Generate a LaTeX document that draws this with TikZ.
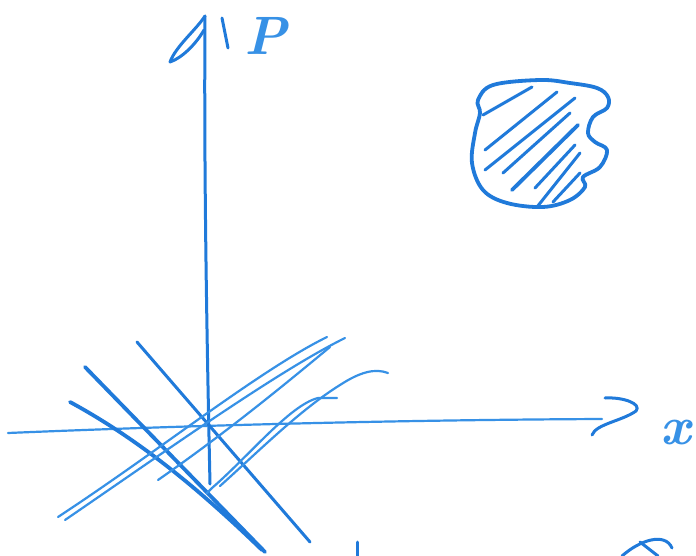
\documentclass[tikz,border=0pt]{standalone}
\definecolor{pen}{RGB}{32,122,218}
\definecolor{penlt}{RGB}{55,145,230}
\begin{document}
\begin{tikzpicture}[x=1pt,y=-1pt,
  pen/.style={draw=pen,line width=3pt,line cap=round,line join=round},
  penthin/.style={draw=penlt,line width=2.2pt,line cap=round,line join=round},
  penthick/.style={draw=pen,line width=3.8pt,line cap=round,line join=round},
  lbl/.style={text=penlt,inner sep=0pt}]
\useasboundingbox (0,0) rectangle (696,556);
\fill[white] (0,0) rectangle (696,556);

% vertical axis with arrow
\draw[pen] (210,484) .. controls (206,300) and (204,150) .. (205,16);
\draw[pen] (205,16) .. controls (196,30) and (176,46) .. (170,62) .. controls (182,58) and (196,44) .. (204,30);
\draw[pen] (222,18) -- (228,48);
\node[lbl,font=\fontsize{54}{54}\selectfont\bfseries\itshape] (P) at (266,36) {P};

% horizontal axis with arrow
\draw[penthin] (8,433) .. controls (200,425) and (400,420) .. (602,419);
\draw[pen] (605,398) .. controls (624,397) and (642,404) .. (636,411) .. controls (622,421) and (596,424) .. (592,435);
\node[lbl,font=\fontsize{54}{54}\selectfont\bfseries\itshape] (X) at (676,433) {x};

% lines going down-right
\draw[pen] (137,342) -- (310,542);
\draw[penthick] (85,367) -- (265,552);
\draw[penthick] (70,402) .. controls (140,440) and (200,490) .. (262,550);

% lines going up-right
\draw[penthin] (58,517) .. controls (160,450) and (260,370) .. (327,337);
\draw[penthin] (65,520) .. controls (170,448) and (280,370) .. (345,338);
\draw[penthin] (158,480) .. controls (230,430) and (290,380) .. (330,347);

% curves
\draw[penthin] (207,493) -- (212,488) .. controls (250,455) and (290,405) .. (318,398) -- (337,398);
\draw[penthin] (220,486) .. controls (260,450) and (300,410) .. (340,385) .. controls (360,372) and (375,368) .. (388,373);

% small bottom strokes
\draw[pen] (357,542) -- (357,556);
\draw[pen] (622,556) .. controls (640,540) and (665,532) .. (672,548);
\draw[pen] (640,542) -- (658,556);

% hatched blob
\draw[penthick] plot[smooth cycle,tension=0.6] coordinates {(493,85) (540,80) (570,83) (597,88) (608,97) (607,108) (593,117) (588,133) (595,142) (607,150) (600,167) (583,177) (585,187) (570,200) (543,207) (507,203) (483,190) (472,163) (475,133) (480,113) (478,100)};
\draw[pen] (483,115) -- (532,87);
\draw[pen] (485,150) -- (557,92);
\draw[pen] (485,170) -- (575,98);
\draw[pen] (503,173) -- (570,113);
\draw[penthick] (512,190) -- (578,125);
\draw[pen] (535,188) -- (575,145);
\draw[pen] (537,207) -- (580,153);
\draw[pen] (553,202) -- (580,173);
\end{tikzpicture}
\end{document}
